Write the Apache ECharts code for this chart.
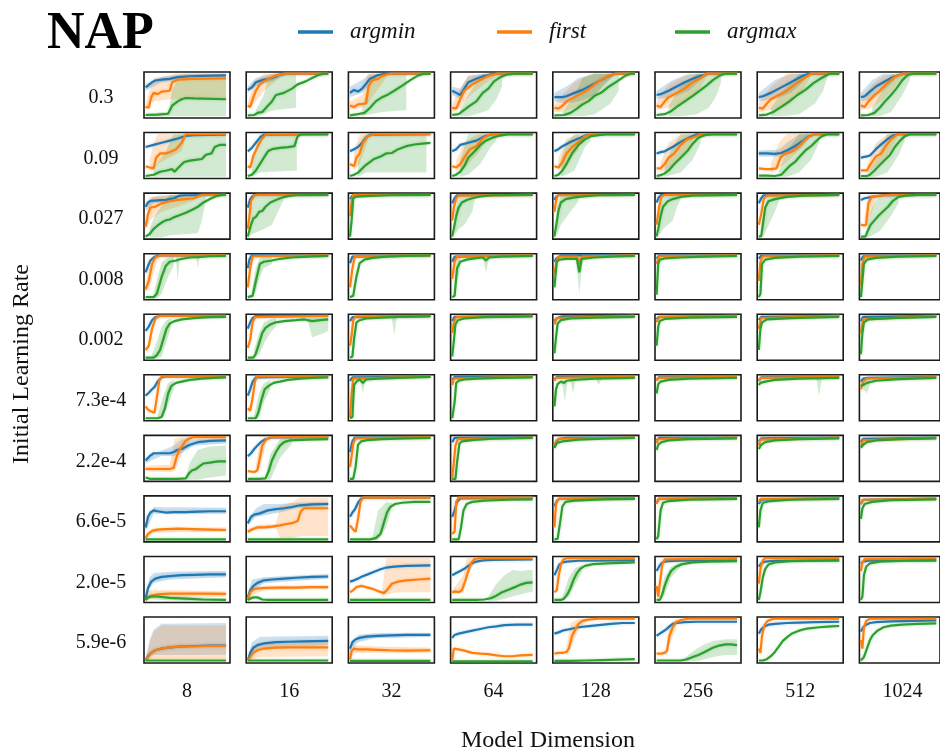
<!DOCTYPE html>
<html>
<head>
<meta charset="utf-8">
<script src="https://cdn.jsdelivr.net/npm/echarts@6/dist/echarts.min.js"></script>
<style>
  html, body { margin: 0; padding: 0; background: #fff; }
  #chart { width: 940px; height: 756px; }
</style>
</head>
<body>
<div id="chart"></div>
<script>
// Grid of training curves: rows = initial learning rate, columns = model dimension.
// Each curve is a list of [step %, accuracy %] points.
const learningRates = ['0.3', '0.09', '0.027', '0.008', '0.002', '7.3e-4', '2.2e-4', '6.6e-5', '2.0e-5', '5.9e-6'];
const modelDims = ['8', '16', '32', '64', '128', '256', '512', '1024'];
const methods = ['argmin', 'first', 'argmax'];

const argminCurves = [
  [ // 0.3
    [[0,68],[3,72],[8,80],[12,84],[20,86],[30,88],[40,92],[55,94],[70,95],[100,96]],
    [[0,62],[5,68],[10,80],[18,85],[30,90],[40,98],[50,100],[100,100]],
    [[0,55],[5,62],[10,58],[15,65],[25,88],[35,97],[45,100],[100,100]],
    [[0,60],[5,55],[10,50],[15,65],[20,80],[30,88],[40,95],[50,99],[60,100],[100,100]],
    [[0,45],[10,45],[15,47],[25,55],[35,62],[45,72],[55,82],[65,92],[75,100],[100,100]],
    [[0,50],[5,52],[15,60],[25,70],[35,80],[45,88],[55,95],[65,100],[100,100]],
    [[0,45],[5,47],[15,55],[25,65],[35,75],[45,85],[55,95],[62,100],[100,100]],
    [[0,45],[5,47],[10,55],[20,70],[30,80],[40,90],[50,97],[58,100],[100,100]]
  ],
  [ // 0.09
    [[0,70],[10,75],[20,80],[30,85],[40,90],[50,96],[60,98],[100,99]],
    [[0,60],[5,68],[10,80],[15,92],[20,99],[100,100]],
    [[0,60],[5,65],[10,70],[15,80],[20,92],[25,99],[100,100]],
    [[0,60],[5,65],[10,75],[20,80],[30,85],[40,95],[50,100],[100,100]],
    [[0,60],[5,65],[10,72],[20,82],[30,90],[40,98],[50,100],[100,100]],
    [[0,55],[5,58],[10,60],[20,70],[30,82],[40,92],[50,100],[100,100]],
    [[0,55],[10,55],[20,54],[28,56],[35,62],[45,72],[55,85],[62,95],[70,100],[100,100]],
    [[0,45],[8,48],[12,50],[20,65],[28,78],[35,88],[42,97],[50,100],[100,100]]
  ],
  [ // 0.027
    [[0,72],[3,82],[6,86],[15,87],[25,88],[35,92],[42,98],[50,99],[100,100]],
    [[0,70],[3,90],[6,97],[10,100],[100,100]],
    [[0,90],[3,98],[6,100],[100,100]],
    [[0,80],[3,92],[6,99],[100,100]],
    [[0,88],[3,97],[6,100],[100,100]],
    [[0,82],[3,95],[6,100],[100,100]],
    [[0,80],[3,92],[6,99],[100,100]],
    [[0,88],[5,92],[15,95],[30,99],[100,100]]
  ],
  [ // 0.008
    [[0,60],[3,75],[6,88],[10,95],[15,100],[100,100]],
    [[0,70],[2,90],[5,100],[100,100]],
    [[0,82],[3,97],[5,100],[100,100]],
    [[0,85],[3,97],[5,100],[100,100]],
    [[0,85],[2,92],[4,96],[8,100],[100,100]],
    [[0,92],[3,99],[100,100]],
    [[0,92],[3,99],[100,100]],
    [[0,88],[3,98],[100,100]]
  ],
  [ // 0.002
    [[0,65],[4,75],[8,90],[12,97],[18,100],[100,100]],
    [[0,70],[3,85],[6,95],[10,100],[100,100]],
    [[0,88],[3,97],[5,100],[100,100]],
    [[0,88],[3,98],[100,100]],
    [[0,88],[2,93],[5,96],[10,99],[100,100]],
    [[0,92],[3,98],[100,100]],
    [[0,90],[3,98],[100,100]],
    [[0,88],[3,98],[100,100]]
  ],
  [ // 7.3e-4
    [[0,55],[4,62],[8,70],[11,75],[15,88],[20,98],[25,100],[100,100]],
    [[0,55],[3,70],[6,88],[10,98],[100,100]],
    [[0,90],[3,98],[100,100]],
    [[0,92],[3,99],[100,100]],
    [[0,93],[3,99],[100,100]],
    [[0,92],[3,98],[100,100]],
    [[0,90],[3,98],[100,100]],
    [[0,88],[3,95],[10,97],[100,99]]
  ],
  [ // 2.2e-4
    [[0,45],[5,55],[10,62],[20,62],[30,62],[35,65],[40,70],[45,72],[55,82],[65,88],[80,91],[100,92]],
    [[0,55],[4,62],[8,72],[12,80],[16,88],[22,95],[30,99],[100,100]],
    [[0,65],[3,90],[6,99],[100,100]],
    [[0,88],[3,98],[100,100]],
    [[0,75],[3,90],[6,96],[15,98],[100,99]],
    [[0,92],[3,98],[100,99]],
    [[0,90],[3,97],[100,99]],
    [[0,88],[3,96],[100,99]]
  ],
  [ // 6.6e-5
    [[0,30],[3,55],[6,65],[10,70],[15,68],[25,65],[35,66],[50,66],[65,67],[80,68],[100,68]],
    [[0,40],[4,55],[8,60],[15,63],[25,70],[35,73],[45,75],[55,78],[65,82],[80,84],[100,85]],
    [[0,55],[3,65],[6,72],[10,88],[14,98],[20,100],[100,100]],
    [[0,55],[3,70],[6,90],[10,98],[100,100]],
    [[0,80],[3,92],[6,97],[100,99]],
    [[0,88],[3,97],[100,99]],
    [[0,85],[3,95],[100,99]],
    [[0,85],[3,95],[100,98]]
  ],
  [ // 2.0e-5
    [[0,5],[3,30],[7,45],[12,52],[20,56],[30,58],[45,60],[60,61],[80,62],[100,62]],
    [[0,8],[3,25],[7,35],[12,42],[20,48],[30,50],[45,52],[60,54],[80,56],[100,57]],
    [[0,45],[5,48],[10,52],[15,57],[22,62],[30,68],[38,74],[45,78],[55,80],[70,82],[100,83]],
    [[0,60],[5,65],[10,70],[15,75],[20,82],[25,88],[30,92],[38,95],[50,96],[100,97]],
    [[0,60],[3,72],[6,85],[10,90],[15,92],[30,94],[100,95]],
    [[0,70],[3,80],[6,88],[10,92],[15,93],[30,94],[100,95]],
    [[0,80],[3,88],[8,92],[20,94],[100,95]],
    [[0,88],[3,92],[10,94],[100,95]]
  ],
  [ // 5.9e-6
    [[0,2],[3,12],[7,20],[12,26],[20,30],[30,33],[45,35],[60,36],[80,37],[100,37]],
    [[0,2],[3,20],[7,32],[12,38],[20,42],[35,45],[50,46],[70,47],[100,48]],
    [[0,30],[3,45],[7,52],[12,55],[20,58],[35,60],[50,61],[70,62],[100,62]],
    [[0,55],[3,62],[8,65],[15,68],[25,72],[35,76],[45,80],[55,82],[65,85],[80,86],[100,86]],
    [[0,65],[5,68],[10,72],[20,76],[30,80],[40,82],[55,85],[70,88],[85,90],[100,90]],
    [[0,60],[4,65],[8,70],[12,75],[16,82],[20,88],[25,90],[35,92],[50,93],[100,93]],
    [[0,65],[3,75],[7,82],[12,86],[20,88],[35,90],[50,91],[70,92],[100,93]],
    [[0,70],[3,80],[7,86],[12,90],[20,92],[40,94],[70,95],[100,96]]
  ]
];

const firstCurves = [
  [ // 0.3
    [[0,22],[4,20],[7,45],[10,55],[15,52],[20,58],[30,60],[33,80],[40,86],[60,88],[100,89]],
    [[0,25],[3,22],[7,45],[10,60],[15,75],[20,82],[28,90],[35,96],[45,100],[100,100]],
    [[0,25],[5,22],[10,28],[20,30],[23,70],[28,85],[35,88],[40,95],[50,100],[100,100]],
    [[0,20],[5,18],[10,40],[15,60],[25,75],[35,85],[45,95],[55,100],[100,100]],
    [[0,20],[5,18],[10,25],[15,35],[25,45],[35,55],[40,60],[50,75],[60,88],[70,97],[78,100],[100,100]],
    [[0,25],[5,22],[10,35],[15,45],[25,55],[35,65],[45,80],[55,90],[62,100],[100,100]],
    [[0,20],[5,18],[10,30],[15,40],[25,50],[35,60],[45,75],[55,88],[65,100],[100,100]],
    [[0,25],[5,22],[10,35],[18,50],[25,60],[35,78],[45,92],[55,100],[100,100]]
  ],
  [ // 0.09
    [[0,25],[5,22],[10,20],[13,45],[18,55],[25,55],[30,58],[38,65],[45,80],[50,100],[100,100]],
    [[0,25],[3,22],[7,50],[12,70],[17,88],[22,98],[26,100],[100,100]],
    [[0,30],[5,25],[8,45],[12,55],[16,80],[22,95],[30,100],[100,100]],
    [[0,25],[5,22],[10,30],[15,45],[22,65],[30,72],[38,90],[45,98],[50,100],[100,100]],
    [[0,25],[5,22],[10,35],[15,55],[22,70],[30,82],[38,95],[45,100],[100,100]],
    [[0,20],[5,20],[10,30],[15,45],[22,55],[30,75],[38,88],[45,92],[55,100],[100,100]],
    [[0,20],[8,18],[15,18],[22,20],[27,45],[33,55],[42,60],[50,72],[58,88],[65,98],[70,100],[100,100]],
    [[0,15],[8,15],[13,30],[20,48],[27,55],[33,72],[40,88],[47,98],[52,100],[100,100]]
  ],
  [ // 0.027
    [[0,25],[3,55],[6,70],[12,72],[20,80],[30,85],[40,88],[50,90],[60,92],[70,100],[100,100]],
    [[0,20],[2,50],[4,85],[8,98],[12,100],[100,100]],
    [[0,50],[2,85],[4,100],[100,100]],
    [[0,40],[2,70],[5,92],[8,98],[100,100]],
    [[0,60],[2,85],[4,99],[100,100]],
    [[0,30],[3,70],[6,95],[10,100],[100,100]],
    [[0,30],[3,55],[6,90],[10,98],[100,100]],
    [[0,30],[4,28],[7,30],[10,80],[14,95],[25,98],[40,100],[100,100]]
  ],
  [ // 0.008
    [[0,20],[4,40],[8,80],[12,95],[18,100],[100,100]],
    [[0,25],[3,70],[6,98],[100,100]],
    [[0,25],[3,70],[6,98],[100,100]],
    [[0,45],[3,85],[6,98],[100,100]],
    [[0,55],[3,90],[6,97],[28,97],[31,80],[34,97],[100,100]],
    [[0,80],[3,98],[100,100]],
    [[0,40],[2,85],[5,98],[100,100]],
    [[0,30],[2,80],[5,97],[100,100]]
  ],
  [ // 0.002
    [[0,20],[4,30],[8,70],[12,92],[16,100],[100,100]],
    [[0,25],[3,45],[6,85],[9,97],[100,100]],
    [[0,30],[2,55],[4,90],[7,99],[100,100]],
    [[0,60],[2,85],[5,97],[100,100]],
    [[0,80],[3,95],[100,100]],
    [[0,85],[3,97],[100,100]],
    [[0,70],[3,95],[100,100]],
    [[0,60],[3,92],[100,100]]
  ],
  [ // 7.3e-4
    [[0,30],[3,22],[7,18],[11,15],[14,50],[17,90],[20,100],[100,100]],
    [[0,25],[3,20],[6,50],[9,90],[12,100],[100,100]],
    [[0,5],[2,60],[4,95],[100,100]],
    [[0,80],[2,95],[100,100]],
    [[0,90],[2,97],[100,100]],
    [[0,90],[2,97],[100,100]],
    [[0,90],[2,97],[100,100]],
    [[0,70],[3,88],[8,95],[100,98]]
  ],
  [ // 2.2e-4
    [[0,25],[10,25],[20,25],[30,25],[35,28],[38,50],[42,70],[46,80],[50,92],[55,97],[60,100],[100,100]],
    [[0,20],[8,18],[12,22],[15,50],[18,80],[22,92],[26,98],[30,100],[100,100]],
    [[0,30],[2,55],[4,85],[7,97],[100,100]],
    [[0,5],[2,40],[4,80],[7,95],[100,99]],
    [[0,80],[2,90],[5,96],[100,99]],
    [[0,85],[2,95],[100,99]],
    [[0,80],[2,94],[100,99]],
    [[0,78],[3,92],[100,98]]
  ],
  [ // 6.6e-5
    [[0,5],[3,15],[8,22],[15,25],[25,26],[40,27],[60,26],[80,25],[100,24]],
    [[0,20],[5,25],[12,30],[20,30],[30,32],[40,35],[48,38],[55,40],[62,45],[66,68],[70,75],[85,75],[100,75]],
    [[0,35],[4,25],[7,20],[10,50],[13,90],[16,100],[100,100]],
    [[0,15],[3,20],[5,90],[8,100],[100,100]],
    [[0,30],[2,85],[5,97],[100,99]],
    [[0,85],[2,97],[100,99]],
    [[0,90],[2,97],[100,99]],
    [[0,85],[2,95],[100,98]]
  ],
  [ // 2.0e-5
    [[0,2],[3,8],[7,12],[15,15],[30,17],[50,17],[70,17],[100,16]],
    [[0,2],[3,20],[8,28],[20,30],[40,31],[60,31],[80,32],[100,32]],
    [[0,20],[4,25],[8,32],[14,35],[20,32],[28,28],[36,22],[42,18],[46,25],[52,40],[60,45],[70,48],[85,50],[100,52]],
    [[0,20],[4,22],[8,20],[12,25],[16,45],[20,70],[24,90],[28,98],[35,100],[100,100]],
    [[0,20],[3,25],[5,55],[8,85],[11,97],[15,100],[100,100]],
    [[0,35],[2,10],[4,40],[7,85],[10,97],[100,100]],
    [[0,40],[2,75],[5,95],[8,100],[100,100]],
    [[0,70],[2,90],[5,98],[100,100]]
  ],
  [ // 5.9e-6
    [[0,2],[3,10],[7,20],[12,26],[20,30],[30,33],[45,35],[60,35],[80,36],[100,36]],
    [[0,2],[3,10],[7,20],[12,26],[20,30],[35,32],[50,33],[70,33],[100,33]],
    [[0,5],[2,25],[5,30],[10,28],[20,28],[35,27],[50,26],[70,25],[100,26]],
    [[0,3],[2,30],[4,32],[8,28],[15,25],[25,20],[35,18],[45,17],[55,14],[65,12],[75,12],[85,14],[100,15]],
    [[0,18],[5,20],[10,20],[15,22],[18,30],[22,60],[26,75],[30,88],[35,95],[42,98],[55,100],[100,100]],
    [[0,18],[5,18],[10,20],[13,25],[16,60],[20,80],[24,92],[30,97],[40,100],[100,100]],
    [[0,30],[2,20],[4,60],[7,85],[11,95],[18,100],[100,100]],
    [[0,50],[2,30],[4,80],[7,95],[12,100],[100,100]]
  ]
];

const argmaxCurves = [
  [ // 0.3
    [[0,3],[15,4],[28,6],[33,25],[40,35],[45,40],[50,43],[60,42],[100,40]],
    [[0,2],[8,3],[12,8],[18,10],[25,25],[30,35],[35,50],[45,55],[55,65],[62,75],[72,82],[80,90],[88,97],[95,100],[100,100]],
    [[0,2],[10,5],[18,8],[25,20],[32,35],[40,45],[48,52],[55,60],[65,72],[75,85],[85,96],[92,100],[100,100]],
    [[0,3],[8,5],[15,15],[22,25],[30,35],[38,55],[45,65],[52,82],[60,92],[68,98],[78,100],[100,100]],
    [[0,2],[12,3],[20,8],[28,18],[35,28],[42,35],[50,48],[58,55],[68,70],[78,82],[88,95],[95,100],[100,100]],
    [[0,3],[10,5],[18,12],[25,22],[35,35],[45,48],[55,62],[62,72],[70,85],[78,95],[85,100],[100,100]],
    [[0,2],[10,4],[18,10],[28,22],[38,35],[48,50],[58,62],[68,78],[78,90],[88,100],[100,100]],
    [[0,2],[10,3],[18,8],[25,20],[32,35],[40,50],[47,65],[55,85],[62,97],[70,100],[100,100]]
  ],
  [ // 0.09
    [[0,2],[10,5],[18,12],[26,15],[33,18],[36,12],[40,20],[48,35],[55,38],[62,40],[70,42],[75,52],[82,55],[86,70],[92,75],[100,75]],
    [[0,2],[5,5],[10,15],[15,30],[20,45],[25,60],[30,65],[40,68],[50,70],[58,72],[62,95],[66,100],[100,100]],
    [[0,2],[5,5],[10,10],[18,25],[25,35],[30,42],[38,48],[45,55],[52,56],[60,65],[70,72],[80,76],[90,78],[100,80]],
    [[0,2],[5,5],[10,12],[15,25],[20,45],[28,60],[35,75],[42,85],[50,92],[60,97],[70,100],[100,100]],
    [[0,2],[5,5],[10,15],[15,30],[22,55],[30,75],[38,88],[45,95],[55,98],[65,100],[100,100]],
    [[0,2],[5,4],[10,8],[15,15],[22,30],[30,45],[38,60],[45,78],[52,92],[60,98],[70,100],[100,100]],
    [[0,3],[10,3],[20,2],[28,5],[33,15],[38,25],[45,35],[52,50],[58,62],[65,72],[72,85],[78,95],[85,100],[100,100]],
    [[0,2],[8,2],[12,5],[18,15],[25,28],[32,40],[38,50],[45,70],[52,85],[58,95],[65,100],[100,100]]
  ],
  [ // 0.027
    [[0,2],[5,8],[10,20],[15,28],[20,35],[25,40],[30,42],[35,47],[42,52],[50,58],[58,65],[65,72],[72,82],[80,90],[88,97],[95,100],[100,100]],
    [[0,2],[4,30],[7,45],[10,48],[14,60],[18,62],[22,72],[28,82],[35,88],[42,93],[50,97],[60,99],[100,100]],
    [[0,2],[2,40],[4,92],[8,96],[20,97],[50,99],[100,100]],
    [[0,2],[2,20],[5,50],[8,70],[12,82],[18,88],[25,92],[35,96],[50,99],[100,100]],
    [[0,2],[2,25],[5,62],[8,82],[14,90],[25,94],[40,97],[55,99],[100,100]],
    [[0,2],[2,20],[5,50],[8,72],[14,85],[20,90],[30,95],[45,98],[100,100]],
    [[0,2],[3,3],[5,30],[8,70],[12,85],[20,90],[35,95],[55,98],[100,100]],
    [[0,2],[6,2],[9,15],[13,30],[18,40],[24,52],[30,62],[36,72],[42,85],[50,95],[60,98],[75,100],[100,100]]
  ],
  [ // 0.008
    [[0,2],[10,2],[14,10],[20,50],[25,75],[30,85],[38,88],[45,92],[55,95],[65,96],[80,98],[100,99]],
    [[0,2],[6,5],[10,40],[15,80],[20,85],[30,88],[40,92],[55,95],[75,97],[100,99]],
    [[0,2],[4,5],[8,50],[12,82],[18,90],[28,94],[45,97],[70,99],[100,100]],
    [[0,2],[3,5],[6,70],[10,85],[18,90],[28,93],[38,95],[42,88],[46,95],[60,97],[100,99]],
    [[0,25],[3,85],[6,90],[15,92],[28,92],[31,60],[34,92],[50,95],[70,97],[100,99]],
    [[0,8],[2,80],[4,90],[10,93],[30,95],[60,97],[100,99]],
    [[0,2],[2,10],[4,80],[8,90],[20,94],[50,97],[100,99]],
    [[0,2],[2,5],[4,80],[8,90],[20,94],[50,97],[100,99]]
  ],
  [ // 0.002
    [[0,2],[10,2],[14,8],[18,20],[22,45],[26,70],[30,82],[36,88],[45,92],[60,95],[80,97],[100,98]],
    [[0,2],[7,2],[10,12],[14,35],[18,60],[22,72],[28,80],[35,85],[45,88],[60,90],[70,92],[80,88],[90,90],[100,92]],
    [[0,2],[3,5],[5,45],[8,85],[12,90],[20,94],[40,96],[60,98],[100,99]],
    [[0,5],[2,40],[4,80],[7,90],[15,94],[40,97],[100,99]],
    [[0,12],[2,50],[4,82],[8,90],[20,94],[50,96],[100,98]],
    [[0,30],[2,75],[4,88],[10,93],[40,96],[100,98]],
    [[0,20],[2,70],[4,85],[10,92],[40,95],[100,98]],
    [[0,10],[2,60],[4,85],[10,92],[40,95],[100,98]]
  ],
  [ // 7.3e-4
    [[0,2],[15,2],[20,5],[24,25],[28,60],[32,78],[38,85],[45,88],[55,92],[70,95],[85,97],[100,98]],
    [[0,2],[10,2],[13,15],[17,45],[21,70],[26,78],[32,85],[40,88],[50,92],[65,95],[80,97],[100,98]],
    [[0,2],[3,5],[5,80],[8,88],[12,93],[16,85],[20,93],[35,95],[60,97],[100,99]],
    [[0,2],[3,40],[5,85],[8,90],[15,93],[30,95],[60,97],[100,98]],
    [[0,30],[2,70],[4,82],[8,88],[12,85],[15,90],[25,92],[50,95],[100,97]],
    [[0,60],[2,82],[5,88],[15,92],[40,95],[100,97]],
    [[0,80],[2,85],[8,88],[20,92],[50,95],[100,97]],
    [[0,78],[3,80],[8,85],[20,90],[50,94],[100,97]]
  ],
  [ // 2.2e-4
    [[0,5],[5,2],[20,2],[40,2],[50,3],[54,15],[58,22],[62,24],[66,30],[72,38],[80,40],[90,43],[100,43]],
    [[0,2],[15,2],[22,3],[26,20],[30,45],[35,65],[40,80],[45,88],[52,92],[60,93],[75,94],[100,95]],
    [[0,2],[4,2],[7,30],[10,82],[14,90],[22,93],[40,95],[70,97],[100,98]],
    [[0,2],[4,2],[6,40],[9,85],[12,90],[25,93],[50,96],[100,98]],
    [[0,75],[3,86],[10,90],[30,94],[60,96],[100,98]],
    [[0,70],[2,82],[6,88],[15,92],[40,95],[100,97]],
    [[0,72],[3,82],[8,88],[20,92],[50,95],[100,97]],
    [[0,75],[3,82],[8,88],[20,92],[50,95],[100,97]]
  ],
  [ // 6.6e-5
    [[0,2],[100,2]],
    [[0,2],[100,2]],
    [[0,2],[25,2],[32,5],[38,15],[42,40],[46,65],[50,78],[56,85],[65,88],[80,90],[100,90]],
    [[0,2],[8,2],[11,30],[14,70],[18,85],[25,90],[40,93],[70,95],[100,96]],
    [[0,2],[4,3],[7,40],[10,80],[14,90],[25,93],[60,96],[100,97]],
    [[0,2],[2,10],[5,70],[8,88],[15,92],[40,95],[100,97]],
    [[0,30],[2,70],[5,88],[15,92],[40,95],[100,97]],
    [[0,50],[2,75],[5,85],[15,90],[40,94],[100,96]]
  ],
  [ // 2.0e-5
    [[0,2],[3,8],[7,10],[15,10],[30,7],[50,5],[70,3],[100,2]],
    [[0,2],[3,5],[7,8],[12,8],[18,3],[25,2],[100,2]],
    [[0,2],[100,2]],
    [[0,2],[30,2],[40,3],[48,6],[55,12],[62,20],[70,26],[78,32],[85,38],[92,42],[100,43]],
    [[0,2],[8,2],[12,5],[16,15],[20,30],[24,50],[28,65],[32,75],[38,82],[48,86],[65,88],[100,90]],
    [[0,2],[4,2],[7,15],[10,35],[14,55],[18,70],[24,80],[32,86],[45,90],[65,92],[100,93]],
    [[0,2],[2,20],[5,55],[8,75],[12,85],[20,90],[40,93],[100,95]],
    [[0,2],[2,10],[4,60],[7,80],[12,88],[25,92],[60,94],[100,95]]
  ],
  [ // 5.9e-6
    [[0,2],[100,2]],
    [[0,2],[100,2]],
    [[0,1],[100,1]],
    [[0,0],[100,0]],
    [[0,1],[20,1],[40,2],[60,3],[80,4],[100,5]],
    [[0,2],[30,2],[38,5],[45,10],[52,15],[58,20],[64,26],[70,32],[78,37],[86,40],[92,40],[100,38]],
    [[0,2],[5,2],[10,5],[15,12],[20,22],[25,35],[30,48],[36,58],[42,66],[50,72],[60,77],[75,80],[90,82],[100,83]],
    [[0,2],[2,2],[4,10],[8,30],[12,50],[16,62],[22,72],[30,80],[40,84],[55,86],[75,88],[100,89]]
  ]
];

// Spread across runs: [row, column, method, [[step, low, high], ...]]
const bands = [
  [0,0,'argmin',[[0,60,76],[20,80,92],[50,88,100],[100,90,100]]],
  [0,0,'first',[[0,15,30],[5,30,60],[10,35,90],[30,40,95],[35,40,100],[100,40,100]]],
  [0,0,'argmax',[[0,0,6],[28,0,10],[33,0,60],[40,0,88],[100,0,90]]],
  [0,1,'argmin',[[0,55,70],[10,70,90],[30,82,100],[45,95,100]]],
  [0,1,'first',[[0,18,32],[8,30,80],[20,60,100],[40,90,100]]],
  [0,1,'argmax',[[10,0,15],[20,5,50],[25,10,90],[35,15,100],[60,20,100]]],
  [0,2,'argmin',[[0,45,70],[15,55,85],[25,75,100],[35,95,100]]],
  [0,2,'first',[[0,15,35],[15,20,50],[22,30,100],[45,90,100]]],
  [0,2,'argmax',[[15,0,20],[25,5,90],[40,10,100],[70,15,100]]],
  [0,3,'argmin',[[0,50,70],[10,40,65],[20,65,95],[40,90,100]]],
  [0,3,'first',[[0,10,30],[10,20,65],[20,45,95],[40,75,100],[55,95,100]]],
  [0,3,'argmax',[[10,0,15],[20,0,50],[30,5,80],[45,15,100],[55,40,100],[62,70,100]]],
  [0,4,'argmin',[[0,35,55],[15,30,70],[30,35,90],[50,50,100],[65,80,100],[75,100,100]]],
  [0,4,'first',[[0,10,30],[10,10,50],[25,20,80],[45,35,100],[60,70,100],[75,95,100]]],
  [0,4,'argmax',[[10,0,8],[25,0,50],[35,0,90],[50,5,100],[70,30,100],[80,60,100]]],
  [0,5,'argmin',[[0,40,60],[20,45,85],[40,60,100],[55,85,100],[65,100,100]]],
  [0,5,'first',[[0,15,35],[15,20,75],[35,30,95],[50,55,100],[62,90,100]]],
  [0,5,'argmax',[[15,0,25],[30,0,70],[50,5,100],[65,20,100],[75,50,100],[80,80,100]]],
  [0,6,'argmin',[[0,35,55],[20,40,85],[40,55,100],[55,80,100],[62,100,100]]],
  [0,6,'first',[[0,10,30],[15,15,70],[35,25,100],[55,60,100],[65,95,100]]],
  [0,6,'argmax',[[15,0,20],[30,0,60],[50,5,100],[70,30,100],[80,60,100],[85,90,100]]],
  [0,7,'argmin',[[0,35,55],[15,40,85],[30,60,100],[45,85,100]]],
  [0,7,'first',[[0,15,35],[15,20,75],[30,40,95],[45,70,100],[55,95,100]]],
  [0,7,'argmax',[[15,0,20],[25,0,50],[40,10,95],[55,50,100],[65,85,100]]],

  [1,0,'first',[[5,15,40],[10,15,80],[15,30,100],[45,60,100],[50,95,100]]],
  [1,0,'argmax',[[10,0,20],[25,0,60],[35,0,100],[100,0,100]]],
  [1,1,'argmax',[[5,0,30],[10,5,70],[15,10,100],[61,15,100]]],
  [1,2,'first',[[5,15,60],[12,30,100],[22,85,100]]],
  [1,2,'argmax',[[10,0,40],[15,5,90],[20,10,100],[95,10,100]]],
  [1,3,'first',[[5,15,40],[15,20,80],[30,50,100],[45,90,100]]],
  [1,3,'argmax',[[10,0,40],[20,5,100],[35,30,100],[48,70,100],[55,85,100]]],
  [1,4,'first',[[5,15,45],[15,30,90],[30,65,100]]],
  [1,4,'argmax',[[8,0,40],[15,5,80],[25,15,100],[38,70,100],[45,85,100]]],
  [1,5,'first',[[5,10,35],[15,20,80],[30,45,100],[45,80,100]]],
  [1,5,'argmax',[[10,0,30],[20,5,70],[30,10,100],[45,40,100],[55,80,100]]],
  [1,6,'argmin',[[0,48,62],[25,48,64],[35,50,80],[50,65,100],[62,90,100]]],
  [1,6,'first',[[15,10,30],[25,20,80],[35,35,100],[55,70,100],[65,95,100]]],
  [1,6,'argmax',[[25,0,15],[35,0,60],[50,10,100],[65,40,100],[75,80,100]]],
  [1,7,'first',[[8,8,25],[20,25,80],[35,50,100],[48,90,100]]],
  [1,7,'argmax',[[10,0,10],[20,0,40],[35,10,100],[50,50,100],[58,85,100]]],

  [2,0,'argmin',[[0,62,82],[10,80,95],[40,88,100]]],
  [2,0,'first',[[0,15,35],[5,40,95],[20,60,100],[45,75,100],[70,95,100]]],
  [2,0,'argmax',[[5,0,20],[10,0,45],[20,0,75],[30,5,100],[65,10,100],[70,40,100],[75,90,100]]],
  [2,1,'argmax',[[3,5,60],[8,10,95],[20,20,100],[30,30,100],[40,70,100],[45,90,100]]],
  [2,3,'argmax',[[3,5,60],[8,20,95],[15,30,100],[25,60,100],[28,90,100]]],
  [2,4,'argmax',[[3,5,70],[8,30,98],[20,60,100],[30,85,100]]],
  [2,5,'argmax',[[3,5,60],[8,20,95],[20,40,100],[25,70,100],[30,90,100]]],
  [2,6,'argmax',[[5,0,50],[10,20,95],[20,60,100],[25,85,100]]],
  [2,7,'first',[[5,20,50],[10,40,100],[20,85,100]]],
  [2,7,'argmax',[[8,0,30],[15,5,70],[25,15,100],[40,50,100],[50,80,100]]],

  [3,0,'first',[[0,10,35],[5,25,70],[10,60,100],[15,90,100]]],
  [3,0,'argmax',[[10,0,10],[15,0,50],[20,10,85],[28,50,95],[35,75,98]]],
  [3,0,'argmax',[[38,86,95],[40,40,95],[42,86,95]]],
  [3,0,'argmax',[[63,93,98],[65,70,98],[67,93,98]]],
  [3,1,'argmax',[[5,0,15],[10,15,70],[15,50,95],[20,70,98],[30,80,99]]],
  [3,3,'argmax',[[3,0,30],[6,40,95],[10,70,98]]],
  [3,3,'argmax',[[39,88,97],[42,60,97],[45,88,97]]],
  [3,4,'argmax',[[27,90,95],[31,10,95],[35,90,96]]],
  [3,4,'first',[[27,95,100],[31,60,100],[35,95,100]]],

  [4,0,'argmax',[[8,0,10],[14,0,40],[20,5,75],[26,40,90],[32,75,95]]],
  [4,1,'argmax',[[8,0,20],[14,10,60],[20,35,85],[28,60,92],[35,75,95]]],
  [4,1,'argmax',[[75,85,95],[80,50,95],[95,60,95],[100,65,98]]],
  [4,2,'argmax',[[52,93,98],[55,55,98],[58,93,98]]],

  [5,0,'argmax',[[15,0,10],[22,5,55],[28,35,85],[35,70,92]]],
  [5,1,'argmax',[[8,0,10],[14,5,60],[20,40,85],[28,70,92]]],
  [5,2,'argmax',[[13,88,95],[16,60,95],[19,88,95]]],
  [5,4,'argmax',[[10,80,92],[13,40,90],[16,85,92]]],
  [5,4,'argmax',[[20,88,94],[23,60,94],[26,88,94]]],
  [5,4,'argmax',[[52,92,97],[55,80,97],[58,92,97]]],
  [5,6,'argmax',[[72,90,96],[75,55,96],[78,90,96]]],
  [5,7,'argmax',[[3,70,88],[8,60,92],[12,80,95]]],

  [6,0,'argmin',[[0,38,52],[20,56,68],[35,55,80],[45,62,95],[60,80,95],[100,85,98]]],
  [6,0,'first',[[0,20,32],[30,18,35],[36,20,95],[45,60,100],[55,90,100]]],
  [6,0,'argmax',[[50,0,6],[55,0,40],[65,0,70],[80,5,78],[100,10,80]]],
  [6,1,'first',[[10,15,30],[15,30,90],[22,80,100]]],
  [6,1,'argmax',[[22,0,8],[28,0,60],[40,50,95],[55,85,98]]],

  [7,0,'argmin',[[0,20,40],[10,62,78],[100,62,76]]],
  [7,0,'first',[[0,2,10],[10,18,28],[100,20,30]]],
  [7,1,'argmin',[[0,35,45],[10,55,75],[20,58,85],[40,65,85],[60,75,88],[100,80,90]]],
  [7,1,'first',[[0,15,25],[10,25,35],[35,28,38],[40,5,80],[55,5,90],[65,10,100],[100,10,100]]],
  [7,2,'argmax',[[28,0,8],[35,0,70],[45,30,90],[52,75,88]]],

  [8,0,'argmin',[[0,0,10],[5,30,55],[10,42,65],[30,50,68],[100,55,70]]],
  [8,0,'first',[[0,0,5],[5,5,25],[30,10,25],[100,10,22]]],
  [8,0,'argmax',[[0,0,5],[5,5,15],[20,2,12],[50,0,10],[100,0,5]]],
  [8,1,'argmin',[[0,0,12],[5,20,50],[20,42,55],[100,52,62]]],
  [8,1,'first',[[0,0,5],[5,12,30],[20,25,35],[100,28,36]]],
  [8,2,'first',[[40,10,25],[45,15,100],[60,20,100],[100,20,100]]],
  [8,3,'first',[[0,15,25],[14,20,60],[18,50,100],[28,95,100]]],
  [8,3,'argmax',[[45,0,10],[55,0,40],[65,5,60],[75,10,72],[85,15,70],[95,20,72],[100,20,72]]],
  [8,4,'argmax',[[10,0,10],[18,10,55],[25,35,75],[35,70,86]]],
  [8,5,'argmax',[[5,0,10],[10,15,55],[18,55,80],[30,80,90]]],

  [9,0,'argmin',[[0,0,5],[5,10,50],[10,15,75],[20,15,88],[100,15,90]]],
  [9,0,'first',[[0,0,5],[5,5,45],[10,5,70],[20,5,85],[100,5,85]]],
  [9,1,'argmin',[[0,0,5],[5,15,45],[15,30,58],[100,38,60]]],
  [9,1,'first',[[0,0,5],[5,5,35],[15,10,45],[100,12,50]]],
  [9,2,'argmin',[[0,25,35],[10,45,62],[30,54,66],[100,58,66]]],
  [9,2,'first',[[0,0,10],[5,20,38],[30,20,35],[100,20,32]]],
  [9,4,'first',[[15,15,30],[20,30,90],[30,75,100],[40,95,100]]],
  [9,5,'first',[[12,15,30],[16,40,85],[25,85,100]]],
  [9,5,'argmax',[[35,0,8],[50,0,30],[60,5,40],[70,10,48],[85,15,52],[100,15,52]]]
];

const lineColors = { argmin: '#1f77b4', first: '#ff7f0e', argmax: '#2ca02c' };
const bandColors = { argmin: 'rgba(31,119,180,0.22)', first: 'rgba(255,127,14,0.22)', argmax: 'rgba(44,160,44,0.22)' };
const curveSets = { argmin: argminCurves, first: firstCurves, argmax: argmaxCurves };

// Panel layout
const PANEL_LEFT = 144, PANEL_STEP_X = 102.2, PANEL_W = 86;
const PANEL_TOP = 72, PANEL_STEP_Y = 60.56, PANEL_H = 46;
const SERIF = "'Liberation Serif', 'DejaVu Serif', serif";

const grids = [], xAxes = [], yAxes = [], series = [];

learningRates.forEach((lr, r) => {
  modelDims.forEach((dim, c) => {
    const idx = grids.length;
    grids.push({
      left: PANEL_LEFT + c * PANEL_STEP_X,
      top: PANEL_TOP + r * PANEL_STEP_Y,
      width: PANEL_W, height: PANEL_H,
      show: true, backgroundColor: '#fff',
      borderColor: '#1a1a1a', borderWidth: 1.6
    });
    xAxes.push({ gridIndex: idx, type: 'value', min: -2, max: 105, show: false });
    yAxes.push({ gridIndex: idx, type: 'value', min: -4, max: 104, show: false });

    const panelBands = bands.filter(b => b[0] === r && b[1] === c);
    if (panelBands.length) {
      series.push({
        type: 'custom', xAxisIndex: idx, yAxisIndex: idx, z: 1, silent: true, clip: true,
        data: panelBands.map((b, k) => [0, 0, k]),
        renderItem: (params, api) => {
          const b = panelBands[params.dataIndex];
          const pts = b[3];
          const upper = pts.map(p => api.coord([p[0], p[2]]));
          const lower = pts.slice().reverse().map(p => api.coord([p[0], p[1]]));
          return {
            type: 'polygon',
            shape: { points: upper.concat(lower) },
            style: { fill: bandColors[b[2]] }
          };
        }
      });
    }

    methods.forEach((m, k) => {
      series.push({
        type: 'line', name: m, xAxisIndex: idx, yAxisIndex: idx,
        data: curveSets[m][r][c],
        symbol: 'none', showSymbol: false, silent: true, z: 2 + k,
        lineStyle: { color: lineColors[m], width: 2.2, shadowColor: lineColors[m] + '55', shadowBlur: 3 }
      });
    });
  });
});

// Text: title, legend, row/column labels and axis titles
const graphics = [];
graphics.push({ type: 'text', left: 47, top: 9, style: { text: 'NAP', font: 'bold 52px ' + SERIF, fill: '#000' } });
const legendItems = [
  { m: 'argmin', x: 298 }, { m: 'first', x: 497 }, { m: 'argmax', x: 675 }
];
legendItems.forEach(it => {
  graphics.push({ type: 'line', shape: { x1: it.x, y1: 32, x2: it.x + 35, y2: 32 },
    style: { stroke: lineColors[it.m], lineWidth: 3.5 } });
  graphics.push({ type: 'text', x: it.x + 52, y: 32,
    style: { text: it.m, font: 'italic 23px ' + SERIF, fill: '#111', textVerticalAlign: 'middle' } });
});
learningRates.forEach((lr, r) => {
  graphics.push({ type: 'text', x: 101, y: PANEL_TOP + r * PANEL_STEP_Y + PANEL_H / 2 + 3,
    style: { text: lr, font: '20px ' + SERIF, fill: '#111', textAlign: 'center', textVerticalAlign: 'middle' } });
});
modelDims.forEach((d, c) => {
  graphics.push({ type: 'text', x: PANEL_LEFT + c * PANEL_STEP_X + PANEL_W / 2, y: 692,
    style: { text: d, font: '20px ' + SERIF, fill: '#111', textAlign: 'center', textVerticalAlign: 'middle' } });
});
graphics.push({ type: 'text', x: 548, y: 741,
  style: { text: 'Model Dimension', font: '24px ' + SERIF, fill: '#111', textAlign: 'center', textVerticalAlign: 'middle' } });
graphics.push({ type: 'text', x: 22, y: 364, rotation: Math.PI / 2,
  style: { text: 'Initial Learning Rate', font: '24px ' + SERIF, fill: '#111', textAlign: 'center', textVerticalAlign: 'middle' } });

const chart = echarts.init(document.getElementById('chart'), null, { renderer: 'canvas' });
chart.setOption({
  backgroundColor: '#fff',
  animation: false,
  grid: grids,
  xAxis: xAxes,
  yAxis: yAxes,
  series: series,
  graphic: graphics
});
</script>
</body>
</html>
